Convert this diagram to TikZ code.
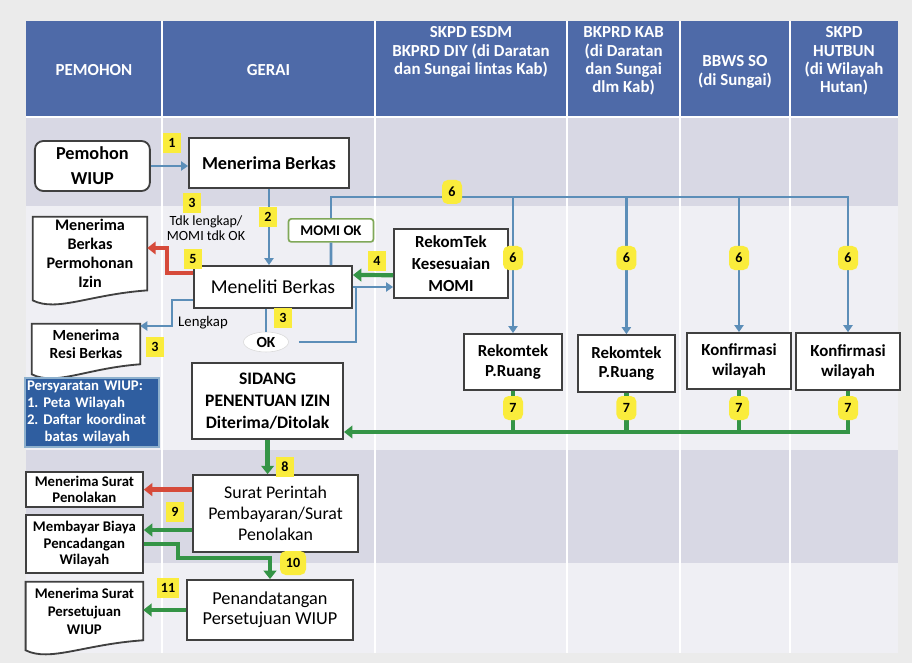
\documentclass[tikz,border=0pt]{standalone}
\usepackage{fontspec}
\setmainfont{Carlito}
\usetikzlibrary{arrows.meta, positioning, shapes.geometric, backgrounds, calc}

\definecolor{hdrblue}{RGB}{78,106,168}
\definecolor{bandgrey}{RGB}{216,216,228}
\definecolor{bandlight}{RGB}{239,239,244}
\definecolor{outergrey}{RGB}{235,235,235}
\definecolor{flowblue}{RGB}{92,142,184}
\definecolor{flowgreen}{RGB}{52,148,70}
\definecolor{flowred}{RGB}{214,74,58}
\definecolor{numyellow}{RGB}{250,236,60}
\definecolor{notebox}{RGB}{47,94,160}
\definecolor{momigreen}{RGB}{128,168,88}

\newcommand{\sz}[2]{\fontsize{#1}{#2}\selectfont}

\begin{document}
\begin{tikzpicture}[
    box/.style={draw=black!75, line width=1.3pt, fill=white, align=center, inner sep=1pt, font=\bfseries\sz{12.5}{14}},
    docbox/.style={align=center, inner sep=1pt, font=\bfseries\sz{10.5}{12.5}},
    docline/.style={draw=black!75, line width=1.3pt, fill=white},
    hdr/.style={text=white, align=center, font=\bfseries\sz{12}{13}},
    num/.style={fill=numyellow, font=\bfseries\sz{10}{11}, minimum width=0.45cm, minimum height=0.5cm, inner sep=1pt},
    numblob/.style={num, rounded corners=4pt, minimum width=0.5cm, minimum height=0.6cm},
    blueline/.style={draw=flowblue, line width=2pt},
    bluearr/.style={blueline, -{Triangle[length=5pt,width=6.5pt]}},
    greenline/.style={draw=flowgreen, line width=3pt},
    greenarr/.style={greenline, -{Triangle[length=6pt,width=9pt]}},
    redarr/.style={draw=flowred, line width=3pt, -{Triangle[length=6pt,width=9pt]}}
  ]
  \useasboundingbox (0,0) rectangle (22.8,-16.575);

  \begin{scope}[on background layer]
    \fill[outergrey] (0,0) rectangle (22.8,-16.575);
    \fill[hdrblue] (0.65,-0.525) rectangle (22.45,-2.925);
    \fill[bandgrey] (0.65,-2.925) rectangle (22.45,-5.15);
    \fill[bandlight] (0.65,-5.15) rectangle (22.45,-11.25);
    \fill[bandgrey] (0.65,-11.25) rectangle (22.45,-14.075);
    \fill[bandlight] (0.65,-14.075) rectangle (22.45,-16.325);
    \foreach \x in {4.05,9.375,14.175,17,19.75}
      \draw[white, line width=1pt] (\x,-0.525) -- (\x,-16.325);
    \draw[white, line width=1pt] (0.65,-2.925) -- (22.45,-2.925);
  \end{scope}

  % header
  \node[hdr] (hpemohon) at (2.35,-1.75) {PEMOHON};
  \node[hdr] (hgerai) at (6.71,-1.75) {GERAI};
  \node[hdr] (hesdm) at (11.775,-1.3) {SKPD ESDM\\BKPRD DIY (di Daratan\\dan Sungai lintas Kab)};
  \node[hdr] (hkab) at (15.59,-1.525) {BKPRD KAB\\(di Daratan\\dan Sungai\\dlm Kab)};
  \node[hdr] (hbbws) at (18.375,-1.8) {BBWS SO\\(di Sungai)};
  \node[hdr] (hhutbun) at (21.1,-1.525) {SKPD\\HUTBUN\\(di Wilayah\\Hutan)};

  % boxes
  \node[box, rounded corners=6pt, font=\bfseries\sz{13}{18}, minimum width=2.875cm, minimum height=1.25cm] (pemohon) at (2.31,-4.15) {Pemohon\\WIUP};
  \node[box, font=\bfseries\sz{13}{15}, minimum width=4cm, minimum height=1.25cm] (terima) at (6.725,-4.075) {Menerima Berkas};
  \node[docbox, font=\bfseries\sz{11.5}{13.5}, minimum width=2.85cm, minimum height=1.825cm] (permohonan) at (2.25,-6.34) {Menerima\\Berkas\\Permohonan\\Izin};
  \node[box, font=\sz{14}{16}, minimum width=3.95cm, minimum height=1.05cm] (meneliti) at (6.825,-7.175) {Meneliti Berkas};
  \node[box, draw=momigreen, line width=1.2pt, rounded corners=2pt, font=\bfseries\sz{10.5}{12}, minimum width=2.125cm, minimum height=0.575cm] (momiok) at (8.275,-5.76) {MOMI OK};
  \node[box, font=\bfseries\sz{12}{15.4}, minimum width=2.85cm, minimum height=1.725cm] (rekommomi) at (11.275,-6.59) {RekomTek\\Kesesuaian\\MOMI};
  \node[ellipse, draw=black!15, fill=white, font=\bfseries\sz{11}{12}, minimum width=1.125cm, minimum height=0.5cm, inner sep=0pt] (ok) at (6.65,-8.55) {OK};
  \node[docbox, font=\bfseries\sz{11}{12.8}, minimum width=2.7cm, minimum height=1cm] (resi) at (2.15,-8.6) {Menerima\\Resi Berkas};
  \node[draw=flowblue!70, line width=1pt, fill=notebox, text=white, align=left, text width=3.25cm, font=\bfseries\sz{10.5}{12.3}, minimum height=1.725cm, inner sep=1.5pt] (syarat) at (2.3,-10.31) {Persyaratan WIUP:\\1.\ Peta Wilayah\\2.\ Daftar koordinat\\\hspace*{1.2em}batas wilayah};
  \node[box, font=\bfseries\sz{12.5}{15.7}, minimum width=3.775cm, minimum height=1.9cm] (sidang) at (6.69,-10.025) {SIDANG\\PENENTUAN IZIN\\Diterima/Ditolak};
  \node[box, font=\bfseries\sz{12}{14}, minimum width=2.45cm, minimum height=1.4cm] (ruang1) at (12.825,-9.05) {Rekomtek\\P.Ruang};
  \node[box, font=\bfseries\sz{12}{14}, minimum width=2.425cm, minimum height=1.425cm] (ruang2) at (15.66,-9.09) {Rekomtek\\P.Ruang};
  \node[box, font=\bfseries\sz{12}{14}, minimum width=2.6cm, minimum height=1.4cm] (konf1) at (18.475,-9.025) {Konfirmasi\\wilayah};
  \node[box, font=\bfseries\sz{12}{14}, minimum width=2.6cm, minimum height=1.425cm] (konf2) at (21.2,-9.04) {Konfirmasi\\wilayah};
  \node[box, font=\sz{12.7}{15}, minimum width=4.125cm, minimum height=1.925cm] (surat) at (6.89,-12.84) {Surat Perintah\\Pembayaran/Surat\\Penolakan};
  \node[box, font=\bfseries\sz{10.5}{11}, inner sep=0pt, minimum width=2.925cm, minimum height=0.875cm] (tolak) at (2.11,-12.24) {Menerima Surat\\Penolakan};
  \node[box, font=\bfseries\sz{10.5}{11.5}, minimum width=2.925cm, minimum height=1.45cm] (bayar) at (2.11,-13.6) {Membayar Biaya\\Pencadangan\\Wilayah};
  \node[box, font=\sz{13}{14.5}, minimum width=4.15cm, minimum height=1.5cm] (tanda) at (6.75,-15.25) {Penandatangan\\Persetujuan WIUP};
  \node[docbox, font=\bfseries\sz{10.5}{12.8}, minimum width=2.925cm, minimum height=1.45cm] (setuju) at (2.11,-15.275) {Menerima Surat\\Persetujuan\\WIUP};

  \node[font=\sz{10}{11}, align=center] (tdk) at (5.15,-5.7) {Tdk lengkap/\\MOMI tdk OK};
  \node[font=\sz{10.5}{12}] (lengkap) at (5.075,-8.075) {Lengkap};

  % connectors
  \draw[bluearr] (pemohon.east) -- (pemohon.east -| terima.west);
  \draw[bluearr] (terima.south) -- (terima.south |- meneliti.north);
  \coordinate (tdkbend) at (4.175,-6.2);
  \draw[redarr] ([yshift=0.35cm]meneliti.west) -| (tdkbend) -- (tdkbend -| permohonan.east);
  \draw[greenarr] ([yshift=-0.29cm]rekommomi.west) -- ([yshift=0.3cm]meneliti.east);
  \draw[bluearr] (meneliti.east) -- (meneliti.east -| rekommomi.west);
  \draw[blueline] ([xshift=1.45cm]meneliti.north) -- (momiok.south);
  \coordinate (bus) at (8.275,-4.925);
  \draw[bluearr] (momiok.north) -- (bus) -| (konf2.north);
  \foreach \n in {ruang1,ruang2,konf1}
    \draw[bluearr] (bus -| \n.north) -- (\n.north);
  \coordinate (lbend) at (4.3,-8.15);
  \draw[bluearr] ([yshift=-0.325cm]meneliti.west) -| (lbend) -- (lbend -| resi.east);
  \draw[blueline] (ok.north) -- (ok.north |- meneliti.south);
  \coordinate (okbend) at (8.9,-7.175);
  \draw[blueline] ([xshift=0.25cm]ok.east) -| (okbend);
  \coordinate (in7) at ([yshift=-0.775cm]sidang.east);
  \foreach \n in {ruang1,ruang2,konf1}
    \draw[greenline] (\n.south) -- (\n.south |- in7);
  \draw[greenarr] (konf2.south) |- (in7);
  \draw[greenarr] (sidang.south) -- (sidang.south |- surat.north);
  \draw[redarr] (tolak.east -| surat.west) -- (tolak.east);
  \draw[greenarr] ([yshift=-0.41cm]surat.west) coordinate (s9) -- (s9 -| bayar.east);
  \coordinate (b10) at (4.45,-13.95);
  \draw[greenarr] (bayar.east) -| (b10) -| (tanda.north);
  \draw[greenarr] (tanda.west) -- (tanda.west -| setuju.east);

  % step numbers
  \node[num] (n1) at (4.3,-3.575) {1};
  \node[num] (n2) at (6.7,-5.425) {2};
  \node[num] (n3a) at (4.8,-5.075) {3};
  \node[num] (n5) at (4.825,-6.475) {5};
  \node[num] (n4) at (9.425,-6.525) {4};
  \node[num] (n3b) at (7.075,-7.95) {3};
  \node[num] (n3c) at (3.875,-8.675) {3};
  \node[numblob] (n6) at (11.3,-4.8) {6};
  \foreach \n in {ruang1,ruang2,konf1,konf2} {
    \node[numblob] (n6\n) at (\n.north |- 0,-6.45) {6};
    \node[numblob] (n7\n) at (\n.south |- 0,-10.2) {7};
  }
  \node[num] (n8) at (7.125,-11.675) {8};
  \node[num] (n9) at (4.375,-12.8) {9};
  \node[numblob, minimum width=0.65cm] (n10) at (7.325,-14.075) {10};
  \node[num, minimum width=0.55cm] (n11) at (4.2,-14.7) {11};

  \begin{scope}[on background layer]
    \foreach \doc in {permohonan,resi,setuju}
      \draw[docline] (\doc.north west) -- (\doc.north east) -- (\doc.south east)
        .. controls ([yshift=-0.1cm]\doc.south) and ([shift={(0.6,-0.55)}]\doc.south west)
        .. ([yshift=-0.25cm]\doc.south west) -- cycle;
  \end{scope}
\end{tikzpicture}
\end{document}
